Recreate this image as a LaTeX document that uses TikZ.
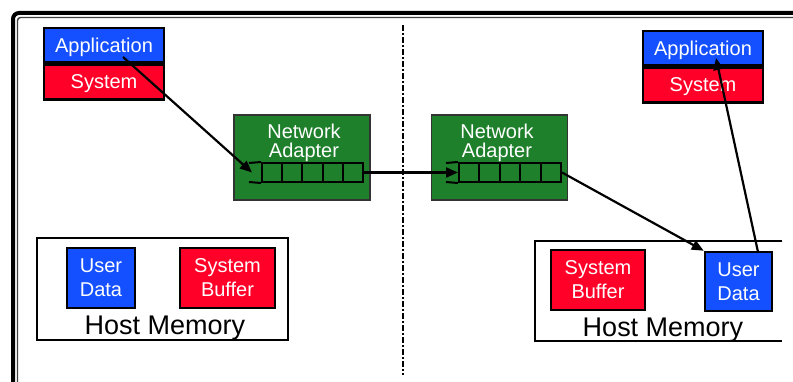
\documentclass[tikz,border=0pt]{standalone}
\usepackage{fontspec}
\setmainfont{Liberation Sans}
\usetikzlibrary{arrows.meta,calc}
\definecolor{appblue}{RGB}{20,80,255}
\definecolor{sysred}{RGB}{255,0,40}
\definecolor{nicgreen}{RGB}{31,128,43}
\tikzset{
	blk/.style={draw=black,line width=2.5pt,text=white,inner sep=0pt,align=center,font=\fontsize{20}{24}\selectfont},
	appbox/.style={blk,fill=appblue,minimum width=120pt,minimum height=34pt,text depth=0pt},
	sysbox/.style={blk,fill=sysred,minimum width=120pt,minimum height=35pt,text depth=0pt},
	udata/.style={blk,fill=appblue,minimum width=68pt,minimum height=60pt},
	sbuf/.style={blk,fill=sysred,minimum width=95pt,minimum height=60pt},
	nic/.style={draw=black!80,line width=1.2pt,fill=nicgreen,minimum width=136pt,minimum height=85pt},
	cellrow/.style={draw=black,line width=2pt,minimum width=101pt,minimum height=19pt,inner sep=0pt},
	msg/.style={line width=2.2pt,-{Triangle[length=12pt,width=10pt]}},
}
\begin{document}
\begin{tikzpicture}[x=1pt,y=-1pt]
		\clip (0,0) rectangle (793,382);
		% frame and divider
		\draw[line width=4pt,rounded corners=6pt] (13,400) -- (13,13) -- (810,13);
		\draw[line width=1.4pt,black!75,rounded corners=3pt] (17.5,400) -- (17.5,17.5) -- (810,17.5);
		\draw[line width=2pt,dash pattern=on 6pt off 2pt on 2pt off 2pt] (403,25) -- (403,375);
		% sender
		\node[appbox] (appL) at (104,45) {Application};
		\node[sysbox,anchor=north] (sysL) at (appL.south) {System};
		\node[draw,line width=2.5pt,minimum width=251pt,minimum height=102pt] (memL) at (162.5,289) {};
		\node[udata] (udL) at (101,278) {User\\Data};
		\node[sbuf] (sbL) at (227.5,278) {System\\Buffer};
		\node[font=\fontsize{27}{30}\selectfont] (hmL) at (165,328) {Host Memory};
		\node[nic] (nicL) at (302,157.5) {};
		\node[text=white,align=center,font=\fontsize{20}{19}\selectfont] at (304,142.5) {Network\\Adapter};
		\node[cellrow] (qL) at (312.5,172.5) {};
		\draw[line width=2pt] (249,163) -- (qL.north west);
		\draw[line width=2pt] (249,182) -- (qL.south west);
		\foreach \i in {1,...,4}
			\draw[line width=2pt] ($(qL.north west)!\i/5!(qL.north east)$) -- ($(qL.south west)!\i/5!(qL.south east)$);
		% receiver
		\node[appbox] (appR) at (703,48) {Application};
		\node[sysbox,anchor=north] (sysR) at (appR.south) {System};
		\draw[line width=2.5pt] (782,241) -| (535,341) -- (782,341);
		\node[sbuf,minimum width=94pt] (sbR) at (598,280) {System\\Buffer};
		\node[udata,minimum width=67pt,minimum height=59pt] (udR) at (738.5,281.5) {User\\Data};
		\node[font=\fontsize{27}{30}\selectfont] (hmR) at (663,330) {Host Memory};
		\node[nic] (nicR) at (499.5,157.5) {};
		\node[text=white,align=center,font=\fontsize{20}{19}\selectfont] at (497,142.5) {Network\\Adapter};
		\node[cellrow,minimum width=102pt] (qR) at (510,172.5) {};
		\draw[line width=2pt] (446,163) -- (qR.north west);
		\draw[line width=2pt] (446,182) -- (qR.south west);
		\foreach \i in {1,...,4}
			\draw[line width=2pt] ($(qR.north west)!\i/5!(qR.north east)$) -- ($(qR.south west)!\i/5!(qR.south east)$);
		% message path
		\coordinate (srcL) at (123,57);
		\coordinate (inL) at (252,172.5);
		\coordinate (topR) at (758,252);
		\coordinate (dstR) at (716,58);
		\draw[msg] (srcL) -- (inL);
		\draw[msg] (qL.east) -- (qR.west);
		\draw[msg] (qR.east) -- (udR.north west);
		\draw[msg] (topR) -- (dstR);
	\end{tikzpicture}
\end{document}
